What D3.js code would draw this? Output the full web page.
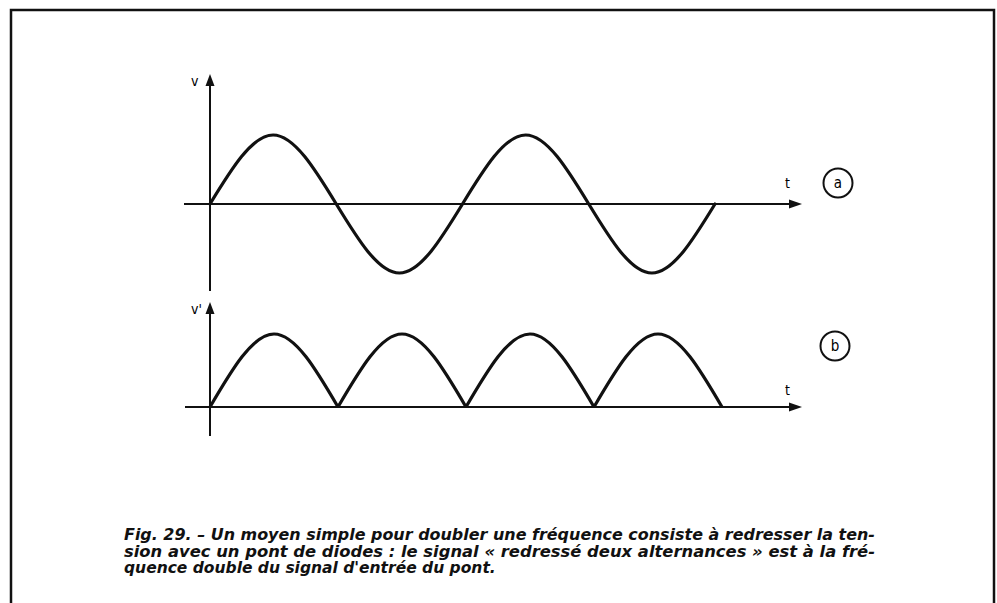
<!DOCTYPE html>
<html>
<head>
<meta charset="utf-8">
<script src="https://cdn.jsdelivr.net/npm/d3@7"></script>
<style>
  body { margin: 0; background: #fff; }
  svg { display: block; }
</style>
</head>
<body>
<div id="chart"></div>
<script>
// time in half periods of the input signal, key points
var halfPeriods = [0, 0.5, 1, 1.5, 2, 2.5, 3, 3.5, 4];
var inputV = [0, 1, 0, -1, 0, 1, 0, -1, 0];       // (a) v
var rectifiedV = [0, 1, 0, 1, 0, 1, 0, 1, 0];     // (b) v'

var captionLines = [
    "Fig. 29. \u2013 Un moyen simple pour doubler une fr\u00e9quence consiste \u00e0 redresser la ten-",
    "sion avec un pont de diodes : le signal \u00ab redress\u00e9 deux alternances \u00bb est \u00e0 la fr\u00e9-",
    "quence double du signal d'entr\u00e9e du pont."
];

var width = 997, height = 603;

var svg = d3.select("#chart")
    .append("svg")
        .attr("width", width)
        .attr("height", height);

// frame
svg.append("rect")
    .attr("x", 11).attr("y", 10)
    .attr("width", 983).attr("height", 620)
    .attr("fill", "none")
    .attr("stroke", "#111")
    .attr("stroke-width", 2.5);

// scales
var xA = d3.scaleLinear().domain([0, 4]).range([210, 715]);
var yA = d3.scaleLinear().domain([-1, 1]).range([273, 135]);
var xB = d3.scaleLinear().domain([0, 4]).range([210, 722]);
var yB = d3.scaleLinear().domain([0, 1]).range([407, 334]);

function arrowUp(x, y) {
    return "M" + x + "," + y + "L" + (x - 4.5) + "," + (y + 12) + "L" + (x + 4.5) + "," + (y + 12) + "Z";
}
function arrowRight(x, y) {
    return "M" + x + "," + y + "L" + (x - 13) + "," + (y - 4.5) + "L" + (x - 13) + "," + (y + 4.5) + "Z";
}

function drawAxes(x, y, vTop, vBottom, hLeft, hRight, yLabel, tLabelY, circle) {
    var x0 = x(0), y0 = y(0);
    var g = svg.append("g");
    g.append("line")
        .attr("x1", x0).attr("x2", x0)
        .attr("y1", vBottom).attr("y2", vTop + 6)
        .attr("stroke", "#111").attr("stroke-width", 2);
    g.append("path").attr("d", arrowUp(x0, vTop)).attr("fill", "#111");
    g.append("line")
        .attr("x1", hLeft).attr("x2", hRight - 6)
        .attr("y1", y0).attr("y2", y0)
        .attr("stroke", "#111").attr("stroke-width", 2);
    g.append("path").attr("d", arrowRight(hRight, y0)).attr("fill", "#111");

    g.append("text")
        .attr("x", x0 - 19).attr("y", vTop + 12)
        .attr("font-family", "DejaVu Sans Condensed, DejaVu Sans")
        .attr("font-size", 14)
        .text(yLabel);
    g.append("text")
        .attr("x", hRight - 17).attr("y", tLabelY)
        .attr("font-family", "DejaVu Sans Condensed, DejaVu Sans")
        .attr("font-size", 14)
        .text("t");

    g.append("circle")
        .attr("cx", circle.cx).attr("cy", circle.cy).attr("r", 14.5)
        .attr("fill", "none").attr("stroke", "#111").attr("stroke-width", 2);
    g.append("text")
        .attr("x", circle.cx).attr("y", circle.cy + 5)
        .attr("text-anchor", "middle")
        .attr("font-family", "DejaVu Sans Condensed, DejaVu Sans")
        .attr("font-size", 15)
        .text(circle.label);
}

drawAxes(xA, yA, 74, 291, 184, 802, "v", 188, {cx: 838, cy: 183, label: "a"});
drawAxes(xB, yB, 302, 436, 185, 802, "v'", 395, {cx: 835, cy: 346, label: "b"});

// (a) input signal
var lineA = d3.line()
    .x(function(d) { return xA(d[0]); })
    .y(function(d) { return yA(d[1]); })
    .curve(d3.curveNatural);

svg.append("path")
    .datum(d3.zip(halfPeriods, inputV))
    .attr("d", lineA)
    .attr("fill", "none")
    .attr("stroke", "#111")
    .attr("stroke-width", 3.2)
    .attr("stroke-linecap", "round");

// (b) full-wave rectified: one arch per half period
var lineB = d3.line()
    .x(function(d) { return xB(d[0]); })
    .y(function(d) { return yB(d[1]); })
    .curve(d3.curveNatural);

var pts = d3.zip(halfPeriods, rectifiedV);
var arches = [];
for (var i = 0; i + 2 < pts.length; i += 2) {
    arches.push(pts.slice(i, i + 3));
}

svg.selectAll(".arch")
    .data(arches)
    .enter()
    .append("path")
        .attr("class", "arch")
        .attr("d", lineB)
        .attr("fill", "none")
        .attr("stroke", "#111")
        .attr("stroke-width", 3.2)
        .attr("stroke-linejoin", "round");

// caption
var cap = svg.append("g")
    .attr("font-family", "'DejaVu Sans', sans-serif")
    .attr("font-weight", "bold")
    .attr("font-style", "italic")
    .attr("font-size", 15.5)
    .attr("fill", "#111");

cap.selectAll("text")
    .data(captionLines)
    .enter()
    .append("text")
        .attr("x", 124)
        .attr("y", function(d, i) { return 540 + i * 16.5; })
        .attr("textLength", function(d, i) { return i < 2 ? 751 : null; })
        .attr("lengthAdjust", "spacingAndGlyphs")
        .text(function(d) { return d; });
</script>
</body>
</html>
